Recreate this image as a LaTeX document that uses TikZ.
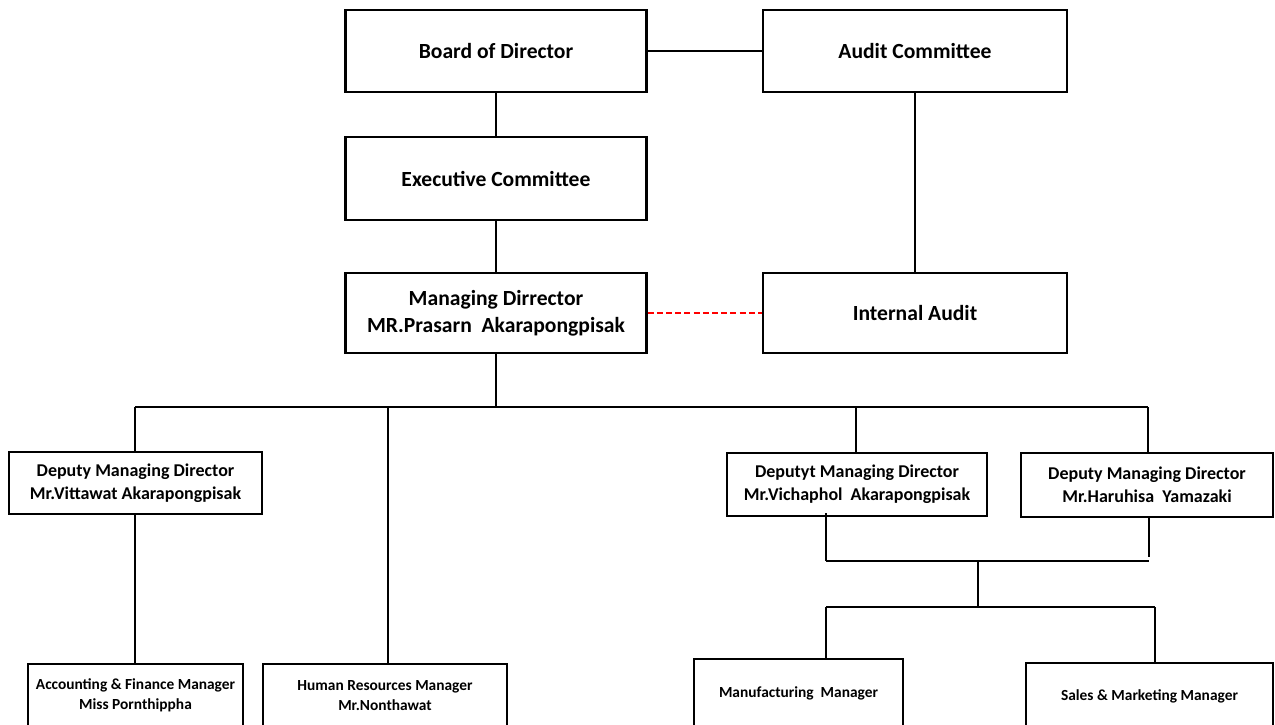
\documentclass[tikz,border=0pt]{standalone}
\usepackage{fontspec}
\setmainfont{Carlito}
\begin{document}
\begin{tikzpicture}[x=0.5pt,y=-0.5pt,
  box/.style={draw=black,line width=1.1pt,fill=white,inner sep=0pt,align=center},
  big/.style={font=\fontsize{10.8}{13.5}\selectfont\bfseries},
  mid/.style={font=\fontsize{9}{11.5}\selectfont\bfseries},
  small/.style={font=\fontsize{7.7}{10}\selectfont\bfseries},
  link/.style={draw=black,line width=1.1pt},
  thin/.style={draw=black,line width=0.7pt},
  dashlink/.style={draw=red,line width=1pt,dash pattern=on 3pt off 1.6pt}]
\useasboundingbox (0,0) rectangle (1275,724);
\clip (0,0) rectangle (1275,724);
\fill[white] (0,0) rectangle (1275,724);
% top row
\node[box,big,minimum width=150.5pt,minimum height=41pt] (board) at (496,51) {Board of Director};
\node[box,big,minimum width=152pt,minimum height=41pt] (audit) at (915,51) {Audit Committee};
\node[box,big,minimum width=150.5pt,minimum height=41.5pt] (exec) at (496,178.5) {Executive Committee};
\node[box,big,minimum width=150.5pt,minimum height=40pt] (md) at (496,313) {Managing Dirrector\\MR.Prasarn\ \ Akarapongpisak};
\node[box,big,minimum width=152pt,minimum height=40pt] (ia) at (915,313) {Internal Audit};
% deputies
\node[box,mid,minimum width=126.5pt,minimum height=31pt] (d1) at (135.5,483) {Deputy Managing Director\\Mr.Vittawat Akarapongpisak};
\node[box,mid,minimum width=130pt,minimum height=31.5pt] (d2) at (857,484.5) {Deputyt Managing Director\\Mr.Vichaphol\ \ Akarapongpisak};
\node[box,mid,minimum width=126pt,minimum height=32pt] (d3) at (1147,485) {Deputy Managing Director\\Mr.Haruhisa\ \ Yamazaki};
% managers (extend below the page)
\node[box,small,minimum width=107.5pt,minimum height=31.5pt] (acc) at (135.5,695.5) {Accounting \& Finance Manager\\Miss Pornthippha};
\node[box,small,minimum width=122pt,minimum height=31.5pt] (hr) at (385,695.5) {Human Resources Manager\\Mr.Nonthawat};
\node[box,small,minimum width=104.5pt,minimum height=34pt] (mfg) at (798.5,693) {Manufacturing\ \ Manager};
\node[box,small,minimum width=123.5pt,minimum height=33pt] (sales) at (1149.5,696) {Sales \& Marketing Manager};
% coordinates
\coordinate (bus) at (496,407);
\coordinate (busL) at (135,407);
\coordinate (busR) at (1148,407);
\coordinate (hrTop) at (388,407);
\coordinate (d2Top) at (856,407);
\coordinate (d2Out) at (826,513);
\coordinate (jA) at (826,561);
\coordinate (jB) at (1149,561);
\coordinate (jB0) at (1149,557);
\coordinate (jC) at (978,561);
\coordinate (jD) at (978,608);
\coordinate (jE) at (826,607);
\coordinate (jF) at (1155,607);
% connectors
\draw[link] (board) -- (audit);
\draw[link] (board) -- (exec);
\draw[link] (exec) -- (md);
\draw[link] (audit) -- (ia);
\draw[dashlink] (md) -- (ia);
\draw[link] (md.south) -- (bus);
\draw[link,line width=1.3pt] (busL) -- (busR);
\draw[link] (busL) -- (d1.north -| busL);
\draw[link] (hrTop) -- (hr.north -| hrTop);
\draw[link] (d2Top) -- (d2.north -| d2Top);
\draw[link] (busR) -- (d3.north -| busR);
\draw[link] (d1.south -| busL) -- (acc.north -| busL);
\draw[link] (d2Out) -- (jA);
\draw[link] (d3.south -| jB) -- (jB0);
\draw[thin] (jA) -- (jB);
\draw[link] (jC) -- (jD);
\draw[thin] (jE) -- (jF);
\draw[link] (jE) -- (mfg.north -| jE);
\draw[link] (jF) -- (sales.north -| jF);
\end{tikzpicture}
\end{document}
